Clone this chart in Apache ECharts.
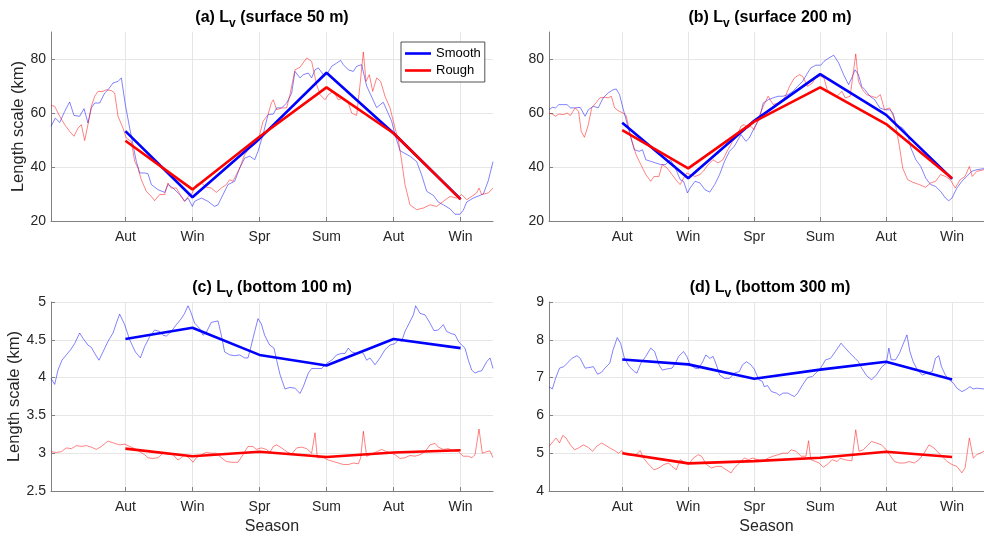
<!DOCTYPE html>
<html>
<head>
<meta charset="utf-8">
<script src="https://cdn.jsdelivr.net/npm/echarts@6/dist/echarts.min.js"></script>
<style>
  html, body { margin: 0; padding: 0; background: #ffffff; }
  #chart { width: 984px; height: 536px; }
</style>
</head>
<body>
<div id="chart"></div>
<script>
// Season ticks along the time axis (day index since the start of the record)
const seasonLabels = ['Aut', 'Win', 'Spr', 'Sum', 'Aut', 'Win'];
const seasonDays = [101, 192, 283, 374, 465, 556];

// Seasonal mean length scales (km), one value per season tick
const smoothMean50 = [53.3, 28.8, 50.5, 74.9, 52.5, 28.1];
const roughMean50 = [49.7, 31.7, 51.2, 69.5, 52.5, 28.0];
const smoothMean200 = [56.4, 35.8, 57.1, 74.4, 59.3, 35.6];
const roughMean200 = [53.7, 39.5, 56.8, 69.5, 55.9, 35.8];
const smoothMean100 = [4.51, 4.66, 4.30, 4.16, 4.51, 4.39];
const roughMean100 = [3.06, 2.96, 3.02, 2.95, 3.01, 3.04];
const smoothMean300 = [7.48, 7.35, 6.97, 7.21, 7.42, 6.95];
const roughMean300 = [5.00, 4.73, 4.79, 4.88, 5.04, 4.90];

// Running length scale series: [day, km]
const smoothDaily50 = [[0,55.1],[5.9,58.1],[11.8,56.5],[18.6,60.6],[25.3,64.1],[31.2,59.1],[38.9,58.8],[44.8,61.6],[50.2,56.3],[54.8,61.9],[59.3,63.7],[66.1,63.7],[72.9,67.4],[77.4,68.6],[84.2,71.1],[91,71.7],[95.5,73.0],[100.9,63.1],[106.8,54.4],[111.3,48.3],[115.8,42.1],[120.4,37.8],[127.1,37.8],[131.7,37.5],[136.2,33.5],[145.2,31.6],[154.3,30.6],[158.8,33.5],[165.6,32.2],[174.7,29.8],[181.4,27.3],[186,28.5],[191.9,25.4],[195,27.3],[204,28.5],[213,27.3],[222,25.4],[226.7,26.0],[231.2,28.5],[240.3,33.5],[249.3,34.7],[256.1,39.6],[263,43.3],[269.7,44.0],[276.5,42.7],[281,45.8],[287.8,52.0],[294.6,59.4],[301.8,59.6],[306.3,61.9],[313.1,61.9],[319.9,63.7],[326.7,67.4],[331.2,75.4],[338,73.0],[342.5,74.2],[349.3,74.8],[353.8,73.0],[358.4,76.0],[362.9,76.7],[369.7,74.2],[374.2,74.2],[381,77.3],[387.8,78.5],[393.2,79.5],[396.8,77.9],[403.6,76.0],[410.4,75.4],[414.9,77.3],[421.7,77.9],[428.5,70],[442,62],[451,64],[462.4,57],[467,52],[473.8,46],[487.3,44],[496.4,42],[503.2,37],[510,31],[519,29.5],[525.8,27],[532.6,26],[541.6,24.5],[548.4,22.5],[555.2,22.5],[559.7,24],[564.3,27],[573.3,28.5],[586.9,30],[593.7,35],[600,42]];
const roughDaily50 = [[0,62.8],[5,62.5],[11.8,58.8],[18.6,55.7],[25.3,53.2],[31.2,51.4],[36.7,54.4],[41.2,55.7],[45.7,49.8],[50.2,55.7],[54.8,62.5],[59.3,66.2],[63.8,68.0],[70.6,68.0],[75.1,68.6],[81.9,68.3],[86.4,67.4],[91,58.8],[97.7,54.4],[102.3,50.7],[109,49.5],[113.6,42.1],[118.1,39.6],[122.6,35.3],[129.4,31.0],[136.2,29.1],[140.7,27.5],[147.5,29.8],[154.3,29.8],[158.8,34.1],[163.3,32.2],[170.1,32.2],[176.9,29.1],[181.4,27.3],[186,29.1],[190.5,29.8],[197.3,33.5],[204.1,34.1],[210.9,32.5],[217.6,32.2],[224.4,30.6],[231.2,32.2],[238,33.5],[242.5,35.3],[247.1,34.7],[251.6,37.2],[256.1,39.6],[262.9,44.6],[269.7,47.0],[276.5,48.3],[281,49.5],[287.8,56.9],[294.6,59.4],[299.1,63.7],[301.8,64.9],[306.3,61.2],[313.1,61.9],[319.9,61.9],[324.4,66.8],[331.2,76.0],[338,76.9],[347.1,80.4],[353.8,79.1],[360.6,70.5],[365.2,66.8],[371.9,64.9],[376.5,66.8],[383.3,68.0],[390,64.9],[396.8,65.6],[403.6,63.7],[408.1,60.0],[414.9,59.1],[419.5,70.5],[424,82.6],[427.6,71.7],[432.1,74.2],[436.7,68.0],[442.1,73.0],[447.5,71.7],[453.4,66.2],[460.2,61.9],[467,54.4],[471.5,50.0],[476.1,42.1],[480.5,33.5],[487.3,26.0],[496.4,24.2],[505.4,24.8],[514.5,26.0],[523.5,25.4],[532.6,27.3],[541.6,29.1],[550.7,28.5],[557.5,29.8],[564.3,27.9],[571.1,29.1],[577.8,30.4],[581,32.2],[584.6,29.8],[593.7,30.4],[600,32.2]];
const smoothDaily200 = [[0,61.2],[4.6,62.1],[9.1,61.9],[13.6,63.1],[20.4,63.1],[24.9,63.1],[29.5,61.9],[36.2,61.9],[43,62.1],[49.8,58.8],[54.3,61.2],[61.1,62.5],[67.9,61.9],[74.7,65.6],[81.5,67.4],[88.3,68.6],[92.8,68.9],[97.3,66.8],[101.9,61.9],[106.4,57.5],[112.3,51.4],[117.7,46.4],[124.5,45.8],[129,46.4],[133.5,42.7],[140.3,42.1],[147.1,41.5],[153.9,40.9],[160.7,40.9],[167.5,42.7],[174.3,39.6],[181,35.3],[185.6,34.7],[191,30.4],[194.6,32.2],[201.4,34.7],[208.2,34.1],[215,31.6],[221.8,30.7],[228.6,33.5],[235.3,37.2],[242.1,42.1],[248.9,45.8],[255.7,47.7],[264.8,52.0],[271.6,49.5],[276.1,50.7],[282.9,54.4],[289.7,57.5],[295.5,63.7],[302.3,64.9],[309.1,65.6],[315.9,66.2],[322.7,66.2],[329.5,66.8],[336.3,68.0],[343,69.9],[349.8,71.7],[356.6,74.8],[361.1,76.7],[367.9,77.7],[374.7,77.7],[379.2,79.1],[386,80.4],[392.8,81.4],[399.6,78.5],[406.4,74.2],[413.2,70.5],[417.7,73.0],[422.2,76.0],[426.8,74.2],[431.3,69.9],[435.8,68.6],[442.6,66.2],[449.4,64.9],[456.2,61.9],[463,61.2],[469.8,61.2],[474.3,60.0],[478.8,55.7],[487.9,54.4],[494.7,52.0],[499.2,47.0],[506,42.7],[512.8,40.2],[519.6,35.9],[526.4,33.5],[533.2,32.8],[540,31.0],[546.8,28.5],[551.3,27.5],[555.8,28.5],[562.6,32.2],[569.4,34.7],[576.2,36.5],[583,38.4],[590,39.0],[600,39.4]];
const roughDaily200 = [[0,60.0],[4.6,59.6],[9.1,58.8],[13.6,59.6],[20.4,59.4],[24.9,60.0],[29.5,59.1],[36.2,61.9],[40.8,60.6],[44.4,53.2],[48.9,51.0],[54.3,55.7],[58.9,61.9],[63.4,63.3],[70.2,65.6],[77,65.8],[81.5,65.6],[86,66.2],[90.5,61.9],[95.1,60.9],[101.9,60.0],[106.4,59.1],[108.6,59.6],[113.2,50.7],[120,44.6],[126.7,40.9],[133.5,37.2],[140.3,34.7],[144.8,36.5],[151.6,36.5],[156.2,40.9],[163,39.6],[169.7,37.2],[176.5,34.7],[181,33.5],[185.6,35.9],[190.1,37.8],[194.6,37.2],[201.4,36.5],[208.2,37.2],[212.7,38.4],[219.5,40.9],[226.3,42.7],[233.1,41.5],[239.9,42.7],[246.7,46.4],[253.4,49.5],[260.2,52.0],[264.8,55.1],[269.3,55.7],[273.8,54.4],[278.4,55.1],[282.9,53.8],[287.4,56.9],[295.5,62.5],[302.3,66.2],[309.1,63.1],[315.9,63.7],[325,65.6],[331.8,69.9],[338.5,73.0],[345.3,74.2],[349.8,73.6],[356.6,69.9],[363.4,71.1],[367.9,73.2],[374.7,73.6],[379.2,73.0],[383.7,68.6],[390.5,67.4],[397.3,66.2],[404.1,68.0],[408.6,65.6],[415.4,66.2],[419.9,75.4],[423.1,81.9],[426.8,71.7],[432.6,68.6],[438,66.8],[444.8,66.2],[451.6,65.6],[457,66.8],[462.9,61.2],[469.8,61.9],[475.2,58.8],[478.8,54.4],[483.3,47.7],[487.9,39.6],[494.7,35.3],[501.4,34.4],[510.5,33.5],[519.5,32.5],[526.4,34.1],[533.2,34.7],[540,37.2],[546.8,36.5],[553.5,35.3],[560.3,32.2],[567.1,35.3],[573.9,36.5],[579.8,40.2],[583.8,36.5],[590,38.4],[600,39.0]];
const smoothDaily100 = [[0,3.99],[5,3.91],[9.5,4.10],[14.9,4.23],[20.8,4.30],[26.7,4.37],[32.1,4.45],[38.9,4.59],[43.4,4.52],[50.2,4.43],[54.8,4.40],[59.3,4.32],[65.2,4.23],[70.6,4.34],[77.4,4.48],[84.2,4.59],[88.7,4.72],[93.2,4.84],[95.5,4.83],[100,4.70],[106.8,4.50],[114.5,4.34],[121.3,4.26],[127.1,4.41],[133.9,4.54],[140.7,4.63],[147.5,4.61],[152,4.56],[156.6,4.55],[163.3,4.61],[170.1,4.70],[176.9,4.78],[181.4,4.85],[186,4.95],[189.6,4.87],[195,4.72],[201.8,4.65],[206.3,4.56],[210.9,4.60],[217.6,4.73],[226.7,4.75],[231.2,4.56],[235.7,4.34],[242.5,4.30],[249.3,4.29],[256.1,4.30],[262.9,4.26],[267.4,4.26],[272,4.43],[276.5,4.61],[281,4.78],[285.5,4.71],[290,4.56],[296.8,4.43],[302.7,4.39],[306.3,4.23],[310.9,4.04],[317.6,3.85],[324.4,3.87],[331.2,3.86],[338,3.79],[342.5,3.88],[349.3,4.06],[353.8,4.12],[360.6,4.12],[367.4,4.12],[374.2,4.19],[381,4.23],[387.8,4.30],[394.6,4.32],[399.1,4.32],[403.6,4.39],[408.1,4.34],[414.9,4.32],[419.5,4.34],[424,4.32],[428.5,4.23],[433,4.26],[439.8,4.17],[446.6,4.26],[453.4,4.37],[460.2,4.43],[467,4.45],[471.5,4.50],[476.1,4.48],[480.5,4.61],[487.3,4.74],[491.9,4.83],[495,4.95],[500.9,4.85],[507.7,4.83],[514.5,4.72],[519.9,4.62],[525.8,4.63],[532.6,4.70],[537.1,4.61],[543.9,4.58],[548.4,4.57],[553,4.48],[557.5,4.43],[562,4.39],[566.5,4.23],[571.1,4.10],[575.6,4.06],[580.1,4.08],[584.6,4.09],[591.4,4.21],[596,4.26],[600,4.12]];
const roughDaily100 = [[0,3.02],[7.2,3.01],[14,3.02],[20.8,3.07],[27.6,3.06],[34.4,3.10],[41.2,3.09],[48,3.10],[54.8,3.08],[61.5,3.05],[68.3,3.09],[77.4,3.16],[86.4,3.13],[93.2,3.11],[100,3.12],[106.8,3.09],[113.6,3.06],[120.4,3.02],[127.1,2.98],[131.7,2.94],[138.5,2.93],[145.2,2.94],[152,3.00],[158.8,2.99],[165.6,2.98],[172.4,2.91],[176.9,2.94],[181.4,2.98],[188.2,2.93],[192.8,2.88],[197.3,2.94],[204.1,2.98],[210.9,3.01],[217.6,3.00],[224.4,3.00],[231.2,2.94],[238,2.89],[244.8,2.88],[253.8,2.88],[260.6,2.98],[267.4,3.09],[274.2,3.09],[278.7,3.05],[285.5,3.07],[292.3,3.05],[297.3,3.01],[301.8,3.09],[306.3,3.11],[313.1,3.07],[319.9,3.02],[326.7,2.99],[333.5,3.07],[340.3,3.08],[347.1,3.06],[353.8,3.00],[358.4,3.27],[361.5,2.94],[369.7,2.94],[376.5,2.91],[383.3,2.89],[390,2.87],[396.8,2.85],[403.6,2.85],[410.4,2.87],[417.2,2.86],[420.4,2.94],[424,3.29],[428.5,2.96],[435.3,2.99],[442.1,3.02],[448.9,3.05],[455.7,3.02],[462.4,3.00],[467,2.98],[473.8,2.93],[480.5,2.94],[487.3,2.97],[494.1,2.96],[500.9,2.98],[507.7,3.02],[514.5,3.11],[521.3,3.13],[525.8,3.08],[532.6,3.05],[539.4,3.06],[546.2,3.03],[553,3.02],[559.7,2.96],[566.5,2.96],[571.1,2.94],[575.6,2.98],[581,3.32],[585.5,3.00],[591.4,3.02],[596,3.03],[600,2.94]];
const smoothDaily300 = [[0,6.76],[4.6,6.70],[9.1,6.98],[14.5,7.25],[20.4,7.29],[27.2,7.42],[31.7,7.51],[38.5,7.58],[43,7.51],[49.8,7.25],[56.6,7.27],[61.1,7.29],[67,7.09],[72.4,7.14],[77,7.25],[83.8,7.38],[88.3,7.73],[94.2,8.06],[98.7,7.91],[104.1,7.51],[110.9,7.29],[117.7,7.16],[121.3,7.12],[126.7,7.38],[133.5,7.56],[140.3,7.78],[145.7,7.69],[151.6,7.34],[156.2,7.20],[162.9,7.23],[169.7,7.25],[174.3,7.38],[178.8,7.56],[185.6,7.69],[190.1,7.56],[194.6,7.34],[201.4,7.25],[205.9,7.23],[211.8,7.41],[216.3,7.60],[221.8,7.51],[226.3,7.56],[230.8,7.34],[235.3,7.07],[242.1,6.98],[248.9,6.98],[255.7,7.12],[262.5,7.16],[267,7.34],[272.4,7.42],[278.3,7.34],[282.9,7.23],[289.6,6.94],[294.2,6.90],[296.9,6.76],[301.4,6.79],[306.8,6.63],[313.6,6.59],[318.2,6.53],[322.7,6.59],[329.5,6.59],[334,6.54],[338.5,6.50],[343,6.59],[349.8,6.81],[356.6,7.00],[363.4,7.03],[367.9,7.12],[374.7,7.25],[381.5,7.47],[388.3,7.51],[395.1,7.69],[402.8,7.91],[408.7,7.78],[415.4,7.64],[422.2,7.51],[426.8,7.42],[431.3,7.25],[438.1,7.05],[444.9,6.94],[451.6,7.07],[458.4,7.27],[465.2,7.38],[468.8,7.78],[472,7.47],[477.9,7.47],[483.3,7.64],[487.9,7.86],[493.7,8.13],[497.8,7.69],[502.3,7.42],[508.2,7.20],[515,7.07],[521.8,7.12],[528.6,7.16],[533.1,7.51],[537.6,7.58],[541.3,7.29],[546.7,7.07],[552.2,6.94],[558,6.85],[562.6,6.72],[569.4,6.63],[574.8,6.68],[580.7,6.76],[585.2,6.70],[590,6.72],[600,6.70]];
const roughDaily300 = [[0,5.18],[5.5,5.31],[10,5.40],[14.5,5.27],[19,5.47],[23.6,5.40],[29.5,5.22],[35.3,5.09],[40.8,5.14],[47.6,5.22],[54.3,5.15],[60.2,5.05],[65.7,5.18],[72.4,5.27],[77,5.22],[83.8,5.14],[90.5,5.07],[96,5.00],[100.5,5.07],[106.4,4.96],[113.2,4.94],[119.9,4.96],[125.8,5.07],[130.4,4.87],[135.8,4.74],[144.8,4.56],[151.6,4.61],[158.4,4.70],[165.2,4.74],[169.7,4.65],[175.6,4.56],[181,4.83],[185.6,4.78],[192.3,4.70],[199.1,4.87],[205.9,4.96],[210.4,4.92],[217.2,4.70],[224,4.61],[230.8,4.65],[237.6,4.65],[244.4,4.56],[251.2,4.48],[255.7,4.61],[262.5,4.74],[269.3,4.87],[275.2,4.83],[280.6,4.87],[287.4,4.83],[294.2,4.78],[302.3,4.87],[309.1,4.92],[315.9,4.96],[322.7,5.00],[329.5,5.00],[334,5.09],[340.8,5.05],[347.6,4.92],[354.4,4.92],[358,5.33],[361.1,4.83],[367.9,4.78],[372.4,4.74],[378.3,4.63],[383.7,4.70],[390.5,4.83],[397.3,4.78],[401.9,4.87],[407.3,4.83],[413.2,4.81],[417.7,4.80],[423.1,5.62],[427.6,5.05],[433.4,5.09],[440.2,5.22],[444.8,5.31],[451.6,5.27],[458.4,5.22],[462.9,5.14],[469.8,4.96],[476.5,4.78],[483.3,4.74],[490.1,4.74],[496.9,4.78],[503.7,4.74],[510.5,4.83],[517.3,5.00],[524.1,5.22],[530.9,5.14],[537.7,5.00],[544.5,4.87],[549,4.78],[555.8,4.70],[562.6,4.65],[569.4,4.48],[573.9,4.61],[579.8,5.40],[585.2,4.87],[590,4.96],[600,5.05]];

// Axis ticks for each panel
const yTicksSurface = [20, 40, 60, 80];
const yTicksBottom100 = [2.5, 3, 3.5, 4, 4.5, 5];
const yTicksBottom300 = [4, 5, 6, 7, 8, 9];

const FONT = 'Arial, "Liberation Sans", Helvetica, sans-serif';
const AXIS_GRAY = '#808080';
const TEXT_GRAY = '#262626';
const BLUE = '#0000ff';
const RED = '#ff0000';

const panels = [
  { grid: { left: 51, top: 32, width: 442, height: 189 }, yMin: 20, yMax: 90, yTicks: yTicksSurface,
    smooth: smoothDaily50, rough: roughDaily50, smoothMean: smoothMean50, roughMean: roughMean50,
    tag: '(a) L', depth: ' (surface 50 m)', yName: 'Length scale (km)', xName: '' },
  { grid: { left: 549, top: 32, width: 442, height: 189 }, yMin: 20, yMax: 90, yTicks: yTicksSurface,
    smooth: smoothDaily200, rough: roughDaily200, smoothMean: smoothMean200, roughMean: roughMean200,
    tag: '(b) L', depth: ' (surface 200 m)', yName: '', xName: '' },
  { grid: { left: 51, top: 302, width: 442, height: 189 }, yMin: 2.5, yMax: 5, yTicks: yTicksBottom100,
    smooth: smoothDaily100, rough: roughDaily100, smoothMean: smoothMean100, roughMean: roughMean100,
    tag: '(c) L', depth: ' (bottom 100 m)', yName: 'Length scale (km)', xName: 'Season' },
  { grid: { left: 549, top: 302, width: 442, height: 189 }, yMin: 4, yMax: 9, yTicks: yTicksBottom300,
    smooth: smoothDaily300, rough: roughDaily300, smoothMean: smoothMean300, roughMean: roughMean300,
    tag: '(d) L', depth: ' (bottom 300 m)', yName: '', xName: 'Season' }
];

const grids = [], xAxes = [], yAxes = [], series = [], graphics = [];

panels.forEach((p, i) => {
  grids.push(Object.assign({ containLabel: false }, p.grid));

  xAxes.push({
    type: 'value', gridIndex: i, min: 0, max: 600,
    name: p.xName, nameLocation: 'middle', nameGap: 28,
    nameTextStyle: { fontFamily: FONT, fontSize: 16, color: TEXT_GRAY },
    axisLine: { show: true, onZero: false, lineStyle: { color: AXIS_GRAY, width: 1 } },
    axisTick: { show: true, inside: true, length: 4, customValues: seasonDays, lineStyle: { color: AXIS_GRAY } },
    axisLabel: { customValues: seasonDays, margin: 9, fontFamily: FONT, fontSize: 14, color: TEXT_GRAY,
      formatter: v => seasonLabels[seasonDays.indexOf(v)] || '' },
    splitLine: { show: true, lineStyle: { color: '#e6e6e6', width: 1 } }
  });

  yAxes.push({
    type: 'value', gridIndex: i, min: p.yMin, max: p.yMax,
    name: p.yName, nameLocation: 'middle', nameGap: 20, nameRotate: 90,
    nameTextStyle: { fontFamily: FONT, fontSize: 16.5, color: TEXT_GRAY },
    axisLine: { show: true, lineStyle: { color: AXIS_GRAY, width: 1 } },
    axisTick: { show: true, inside: true, length: 4, customValues: p.yTicks, lineStyle: { color: AXIS_GRAY } },
    axisLabel: { customValues: p.yTicks, margin: 5, fontFamily: FONT, fontSize: 14, color: TEXT_GRAY },
    splitLine: { show: true, lineStyle: { color: '#e6e6e6', width: 1 } }
  });

  const thin = (name, data, color) => ({
    type: 'line', name, xAxisIndex: i, yAxisIndex: i, data,
    symbol: 'none', showSymbol: false, silent: true, animation: false,
    lineStyle: { color, width: 0.8 }, itemStyle: { color }, z: 2
  });
  const thick = (name, means, color, z) => ({
    type: 'line', name, xAxisIndex: i, yAxisIndex: i,
    data: seasonDays.map((d, k) => [d, means[k]]),
    symbol: 'none', showSymbol: false, silent: true, animation: false,
    lineStyle: { color, width: 2.6 }, itemStyle: { color }, z
  });

  series.push(thin('Smooth record', p.smooth, 'rgba(0,0,255,0.62)'));
  series.push(thin('Rough record', p.rough, 'rgba(255,0,0,0.62)'));
  series.push(thick('Smooth', p.smoothMean, BLUE, 3));
  series.push(thick('Rough', p.roughMean, RED, 4));

  // Panel title with subscript v
  graphics.push({
    type: 'text',
    x: p.grid.left + p.grid.width / 2,
    y: p.grid.top - 14,
    style: {
      text: '{t|' + p.tag + '}{s|v}{t|' + p.depth + '}',
      align: 'center', verticalAlign: 'middle',
      rich: {
        t: { fontFamily: FONT, fontSize: 16, fontWeight: 'bold', fill: '#000' },
        s: { fontFamily: FONT, fontSize: 12, fontWeight: 'bold', fill: '#000', padding: [12, 0, 0, 0] }
      }
    }
  });
});

const chart = echarts.init(document.getElementById('chart'), null, { renderer: 'canvas' });
chart.setOption({
  animation: false,
  backgroundColor: '#ffffff',
  grid: grids,
  xAxis: xAxes,
  yAxis: yAxes,
  legend: {
    data: [{ name: 'Smooth', icon: 'rect' }, { name: 'Rough', icon: 'rect' }],
    orient: 'vertical',
    left: 401, top: 42,
    padding: [4, 4, 4, 4],
    itemGap: 2,
    itemWidth: 26, itemHeight: 2.6,
    backgroundColor: '#ffffff',
    borderColor: '#262626', borderWidth: 0.8, borderRadius: 0,
    textStyle: { fontFamily: FONT, fontSize: 13, color: '#000', lineHeight: 15 },
    selectedMode: false
  },
  graphic: graphics,
  series
});
</script>
</body>
</html>
